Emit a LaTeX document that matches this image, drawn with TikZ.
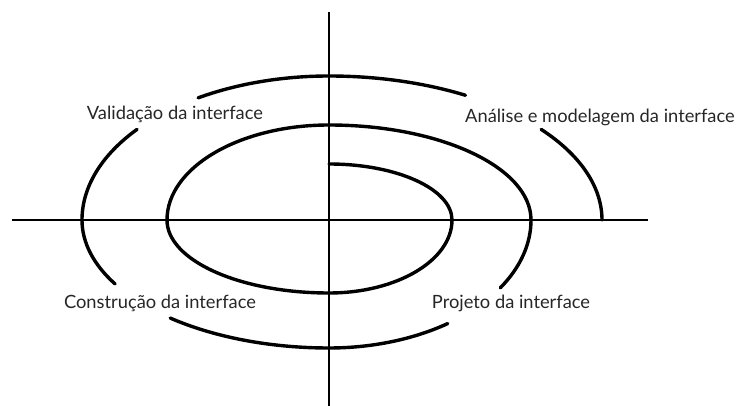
\documentclass[tikz,border=0pt]{standalone}
\usepackage{fontspec}
\setmainfont{Lato}
\usetikzlibrary{positioning}

\begin{document}
\begin{tikzpicture}[x=1pt,y=1pt,
  font=\fontsize{18.3}{22}\selectfont,
  axis/.style={line width=1.3pt},
  spiral/.style={line width=3.4pt,line cap=round},
  lbl/.style={inner sep=0pt,text=black!85}]

\useasboundingbox (-329,-186) rectangle (407,220);

% axes
\coordinate (top) at (0,208);
\coordinate (bot) at (0,-186);
\coordinate (lft) at (-317,0);
\coordinate (rgt) at (319,0);
\draw[axis] (top) -- (bot);
\draw[axis] (lft) -- (rgt);

% spiral, one quarter at a time
\coordinate (s0) at (0,56);
\draw[spiral] (s0)
  arc[start angle=90,end angle=0,x radius=123,y radius=56]
  arc[start angle=0,end angle=-90,x radius=123,y radius=73]
  arc[start angle=-90,end angle=-180,x radius=162,y radius=73]
  arc[start angle=180,end angle=90,x radius=162,y radius=95]
  arc[start angle=90,end angle=0,x radius=202,y radius=95]
  arc[start angle=0,end angle=-32,x radius=202,y radius=128];
\draw[spiral] (-54:202 and 128)
  arc[start angle=-54,end angle=-90,x radius=202,y radius=128]
  arc[start angle=-90,end angle=-130,x radius=247,y radius=128];
\draw[spiral] (-150:247 and 128)
  arc[start angle=-150,end angle=-180,x radius=247,y radius=128]
  arc[start angle=180,end angle=141,x radius=247,y radius=144];
\draw[spiral] (122:247 and 144)
  arc[start angle=122,end angle=90,x radius=247,y radius=144]
  arc[start angle=90,end angle=60,x radius=273,y radius=144];
\draw[spiral] (39:273 and 144)
  arc[start angle=39,end angle=0,x radius=273,y radius=144];

% phase labels
\node[lbl] (valid) at (-154,106) {Validação da interface};
\node[lbl] (anal) at (271,103) {Análise e modelagem da interface};
\node[lbl] (constr) at (-169,-83) {Construção da interface};
\node[lbl] (proj) at (182,-83) {Projeto da interface};
\end{tikzpicture}
\end{document}
